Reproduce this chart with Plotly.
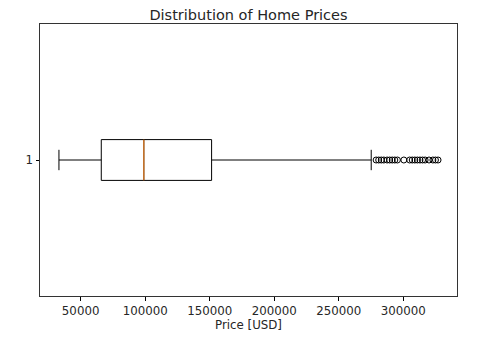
import plotly.graph_objects as go

# Box statistics (USD)
positions = [1]
q1 = [66000]
median = [99000]
q3 = [151500]
lower_whisker = [33200]
upper_whisker = [275200]
outliers = [279000, 281000, 283000, 285000, 287500, 289500, 291500, 293500,
            295500, 300500, 305000, 307000, 309000, 311000, 313000, 315000,
            317000, 320000, 323000, 325000, 327000]
xticks = [50000, 100000, 150000, 200000, 250000, 300000]

BOX_WIDTH = 0.15
TXT = "#262626"

fig = go.Figure()
fig.add_trace(go.Box(
    y=positions, q1=q1, median=median, q3=q3,
    lowerfence=lower_whisker, upperfence=upper_whisker,
    orientation="h", width=BOX_WIDTH, whiskerwidth=0.5,
    line=dict(color="black", width=1), fillcolor="rgba(0,0,0,0)",
    boxpoints=False, hoverinfo="skip", showlegend=False,
))
# median line in orange (matplotlib style)
fig.add_trace(go.Scatter(
    x=[median[0], median[0]],
    y=[positions[0] - BOX_WIDTH / 2, positions[0] + BOX_WIDTH / 2],
    mode="lines", line=dict(color="#ff7f0e", width=1), showlegend=False,
    hoverinfo="skip",
))
fig.add_trace(go.Scatter(
    x=outliers, y=[positions[0]] * len(outliers), mode="markers",
    marker=dict(symbol="circle-open", size=6, color="black", line=dict(width=1)),
    showlegend=False, hoverinfo="skip",
))

xmin = min(lower_whisker + outliers)
xmax = max(upper_whisker + outliers)
pad = 0.05 * (xmax - xmin)

fig.update_layout(
    width=485, height=351,
    margin=dict(l=40, r=28, t=24, b=55),
    paper_bgcolor="white", plot_bgcolor="white",
    font=dict(family="DejaVu Sans", size=11.8, color=TXT),
    title=dict(text="Distribution of Home Prices", x=0.5, xref="paper",
               y=1, yref="paper", yanchor="bottom", pad=dict(b=4),
               font=dict(size=14.5, color=TXT)),
)
fig.update_xaxes(
    range=[xmin - pad, xmax + pad], tickvals=xticks,
    ticktext=[str(v) for v in xticks],
    ticks="outside", ticklen=3.5, tickwidth=0.8, tickcolor="black",
    showline=True, linecolor="#333333", linewidth=1, mirror=True,
    showgrid=False, zeroline=False,
    title=dict(text="Price [USD]", font=dict(size=11.8), standoff=2),
)
fig.update_yaxes(
    range=[0.5, 1.5], tickvals=positions, ticktext=["1"],
    ticks="outside", ticklen=3.5, tickwidth=0.8, tickcolor="black",
    showline=True, linecolor="#333333", linewidth=1, mirror=True,
    showgrid=False, zeroline=False,
)

fig.write_html("out.html")
